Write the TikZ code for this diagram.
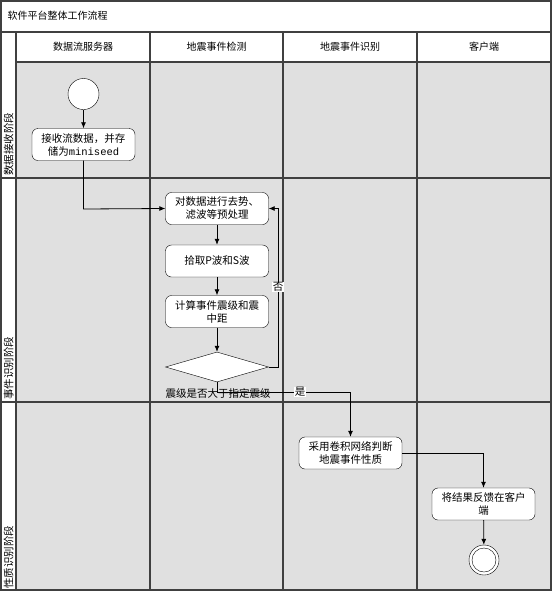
\documentclass[tikz,border=0pt]{standalone}
\usepackage{fontspec}
\setmainfont{Noto Sans CJK SC}
\newfontfamily\monof{Liberation Mono}
\usetikzlibrary{shapes.geometric,arrows.meta}
\definecolor{lanegray}{HTML}{E0E0E0}
\definecolor{gridline}{HTML}{404040}
\begin{document}
\begin{tikzpicture}[x=1pt,y=-1pt,
  grid/.style={draw=gridline, line width=1.2pt},
  proc/.style={draw=black, fill=white, rounded corners=6pt, minimum width=103pt, minimum height=32pt, align=center, inner sep=1pt, font=\fontsize{10.5}{13}\selectfont},
  flow/.style={draw=black, line width=0.8pt, -{Latex[length=6pt,width=5pt]}},
  head/.style={font=\fontsize{10}{12}\selectfont},
  phase/.style={font=\fontsize{10.5}{12}\selectfont, rotate=90, anchor=west, inner sep=0pt},
  lbl/.style={font=\fontsize{10.5}{12}\selectfont, inner sep=0.5pt}]
\useasboundingbox (0,0) rectangle (553,598);
\fill[white] (0,0) rectangle (553,598);
% lanes background
\fill[lanegray] (16,62) rectangle (551,590);
% grid
\draw[grid] (1,1) rectangle (551,590);
\draw[grid] (1,32) -- (551,32);
\draw[grid] (16,32) -- (16,590);
\draw[grid] (16,62) -- (551,62);
\draw[grid] (150,32) -- (150,590);
\draw[grid] (283,32) -- (283,590);
\draw[grid] (417,32) -- (417,590);
\draw[grid] (1,178) -- (551,178);
\draw[grid] (1,402) -- (551,402);
% title and headers
\node[head, anchor=west] (title) at (4,16) {软件平台整体工作流程};
\node[head] (h1) at (83,47) {数据流服务器};
\node[head] (h2) at (216.5,47) {地震事件检测};
\node[head] (h3) at (350,47) {地震事件识别};
\node[head] (h4) at (484,47) {客户端};
% phase labels
\node[phase] (p1) at (8.5,176) {数据接收阶段};
\node[phase] (p2) at (8.5,400) {事件识别阶段};
\node[phase] (p3) at (8.5,589) {性质识别阶段};
% nodes
\node[circle, draw=black, fill=white, minimum size=31pt, inner sep=0pt] (start) at (83.5,94) {};
\node[proc] (b1) at (83.5,144.5) {接收流数据，并存\\储为{\monof miniseed}};
\node[proc] (b2) at (217,208.5) {对数据进行去势、\\滤波等预处理};
\node[proc] (b3) at (217,261) {拾取P波和S波};
\node[proc] (b4) at (217,311.5) {计算事件震级和震\\中距};
\node[diamond, draw=black, fill=white, minimum width=103pt, minimum height=30pt, inner sep=0pt, aspect=3.4] (d) at (217,367) {};
\node[proc] (b5) at (350.5,453) {采用卷积网络判断\\地震事件性质};
\node[proc] (b6) at (483.5,504) {将结果反馈在客户\\端};
\node[circle, draw=black, fill=white, minimum size=30pt, inner sep=0pt] (end) at (484,560) {};
\node[circle, draw=black, fill=white, minimum size=24pt, inner sep=0pt] (endin) at (484,560) {};
% coordinates
\coordinate (c1) at (83.5,209);
\coordinate (c2) at (278,367);
\coordinate (c3) at (278,208.5);
\coordinate (c4) at (217,392);
\coordinate (c5) at (350.5,392);
\coordinate (c6) at (483.5,453);
% connectors
\draw[flow] (start) -- (b1);
\draw[flow] (b1.south) -- (c1) -- (b2.west);
\draw[flow] (b2) -- (b3);
\draw[flow] (b3) -- (b4);
\draw[flow] (b4) -- (d);
\draw[flow] (d.east) -- (c2) -- (c3) -- (b2.east);
\draw[flow] (d.south) -- (c4) -- (c5) -- (b5.north);
\draw[flow] (b5.east) -- (c6) -- (b6.north);
\draw[flow] (b6) -- (end);
% labels
\node[lbl, fill=white] (no) at (278,287) {否};
\node[lbl, fill=white] (yes) at (300,392) {是};
\node[lbl] (q) at (218,393) {震级是否大于指定震级};
\end{tikzpicture}
\end{document}
